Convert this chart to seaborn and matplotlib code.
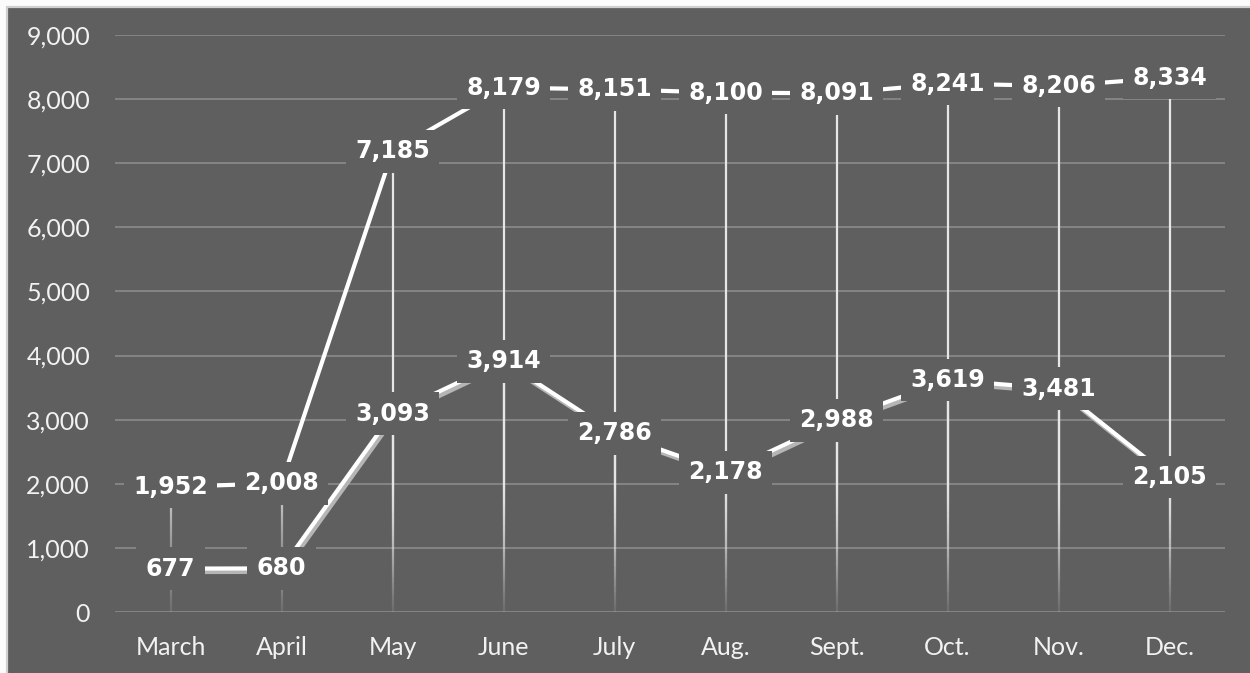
import numpy as np
import pandas as pd
import matplotlib
matplotlib.use("Agg")
import matplotlib.pyplot as plt
import matplotlib.patheffects as pe
from matplotlib.collections import LineCollection
from matplotlib.patches import Rectangle
import seaborn as sns

months = ["March", "April", "May", "June", "July", "Aug.", "Sept.", "Oct.", "Nov.", "Dec."]
upper_values = [1952, 2008, 7185, 8179, 8151, 8100, 8091, 8241, 8206, 8334]
lower_values = [677, 680, 3093, 3914, 2786, 2178, 2988, 3619, 3481, 2105]
y_ticks = [0, 1000, 2000, 3000, 4000, 5000, 6000, 7000, 8000, 9000]

BG = "#5f5f5f"
GRID = "#858585"
WHITE = "#ffffff"
SHADOW = "#b5b5b5"

sns.set_theme(style="dark")
plt.rcParams["font.family"] = ["Lato", "DejaVu Sans"]

df = pd.DataFrame({
    "pos": np.arange(len(months)),
    "upper": upper_values,
    "lower": lower_values,
})

fig = plt.figure(figsize=(12.5, 6.73), dpi=100, facecolor="#fbfbfb")
# dark panel with a thin light frame on the top/left
panel = Rectangle((7 / 1250, -0.01), 1.0, (673 - 7) / 673 + 0.01,
                  transform=fig.transFigure, facecolor=BG,
                  edgecolor="#cfcfcf", linewidth=1.6, zorder=-10)
fig.add_artist(panel)

ax = fig.add_axes([115 / 1250, 61 / 673, 1110 / 1250, 577 / 673])
ax.set_zorder(1)
ax.set_facecolor(BG)
for s in ax.spines.values():
    s.set_visible(False)

ax.set_xlim(-0.5, len(months) - 0.5)
ax.set_ylim(0, 9000)
ax.set_yticks(y_ticks)
ax.set_yticklabels([f"{v:,}" for v in y_ticks])
ax.set_xticks(df["pos"])
ax.set_xticklabels(months)
ax.tick_params(axis="y", length=0, pad=18, labelsize=18, labelcolor="#f2f2f2")
ax.tick_params(axis="x", length=0, pad=17, labelsize=18, labelcolor="#f2f2f2")
ax.grid(False)
for t in y_ticks:
    ax.axhline(t, color=GRID, lw=1.4, zorder=1)

# vertical drop lines fading towards the baseline
def drop_lines(values):
    segs, cols = [], []
    for x, v in zip(df["pos"], values):
        edges = np.linspace(0, v, 80)
        for a, b in zip(edges[:-1], edges[1:]):
            segs.append([(x, a), (x, b)])
            mid = (a + b) / 2
            alpha = 0.06 + 0.94 * min(1.0, mid / 2200) ** 1.3
            cols.append((0.9, 0.9, 0.9, alpha))
    ax.add_collection(LineCollection(segs, colors=cols, linewidths=1.6,
                                     zorder=2, capstyle="butt"))

drop_lines(df["upper"])
drop_lines(df["lower"])

sns.lineplot(data=df, x="pos", y="upper", ax=ax, color=WHITE, lw=3.0,
             zorder=4, legend=False)
sns.lineplot(data=df, x="pos", y="lower", ax=ax, color=WHITE, lw=3.0,
             zorder=3, legend=False,
             path_effects=[pe.SimpleLineShadow(offset=(1.5, -2.5), shadow_color=SHADOW,
                                               alpha=1.0, linewidth=3.0),
                           pe.Normal()])
ax.set_xlabel("")
ax.set_ylabel("")

box = dict(boxstyle="square,pad=0.4", facecolor=BG, edgecolor="none")
label_font = dict(family="DejaVu Sans", fontsize=17, fontweight="bold", color=WHITE)
for x, v in zip(df["pos"], df["lower"]):
    ax.text(x, v, f"{v:,}", ha="center", va="center", bbox=box, zorder=5,
            clip_on=False, **label_font)
for x, v in zip(df["pos"], df["upper"]):
    ax.text(x, v, f"{v:,}", ha="center", va="center", bbox=box, zorder=6,
            clip_on=False, **label_font)

fig.savefig("out.png", dpi=100, facecolor=fig.get_facecolor())
